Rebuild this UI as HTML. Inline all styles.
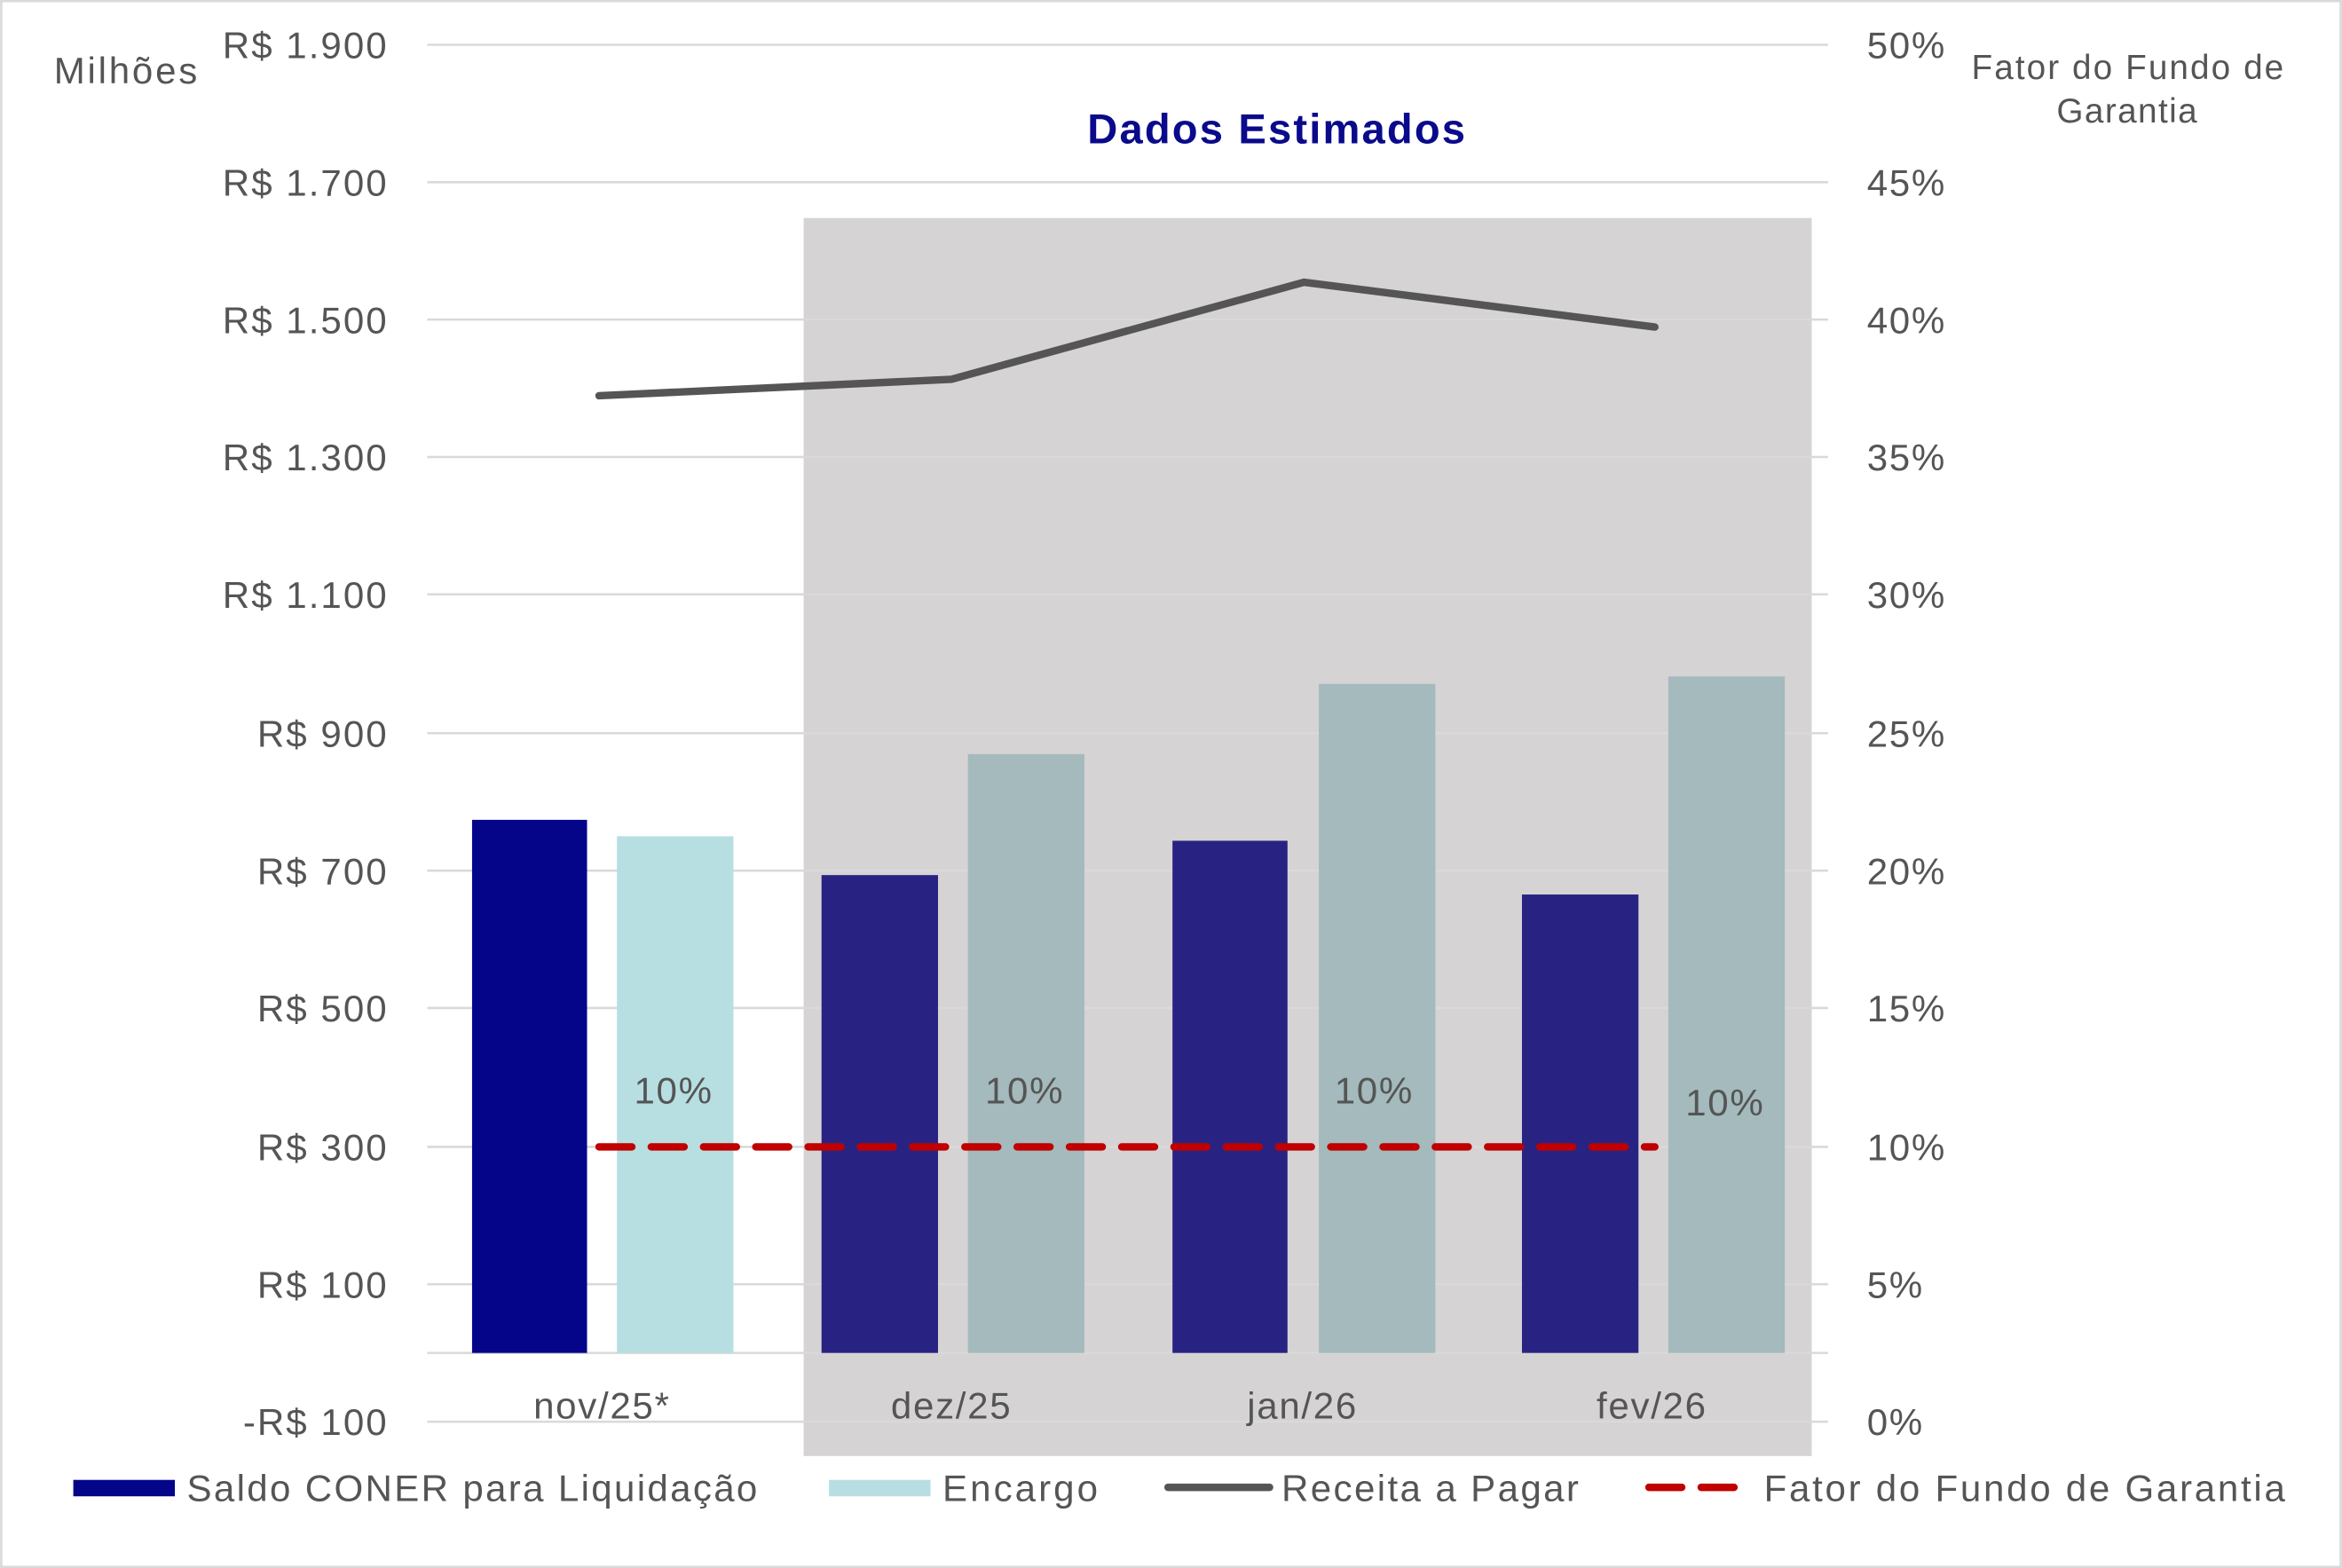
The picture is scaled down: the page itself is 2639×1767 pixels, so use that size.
<!DOCTYPE html>
<html><head><meta charset="utf-8"><style>
html,body{margin:0;padding:0;background:#fff}
svg{display:block}
text{font-family:"Liberation Sans",sans-serif;fill:#555}
</style></head><body>
<svg width="2639" height="1767" viewBox="0 0 1568 1050" xmlns="http://www.w3.org/2000/svg">
<rect x="0.75" y="0.75" width="1566.5" height="1048.5" fill="#fff" stroke="#d9d9d9" stroke-width="1.5"/>
<rect x="538" y="146" width="675" height="829" fill="#d5d3d4"/>
<g stroke="#d9d9d9" stroke-width="1.5">
<line x1="286" x2="1224" y1="30" y2="30"/><line x1="286" x2="1224" y1="122" y2="122"/>
<line x1="286" x2="1224" y1="214" y2="214"/><line x1="286" x2="1224" y1="306" y2="306"/>
<line x1="286" x2="1224" y1="398" y2="398"/><line x1="286" x2="1224" y1="491" y2="491"/>
<line x1="286" x2="1224" y1="583" y2="583"/><line x1="286" x2="1224" y1="675" y2="675"/>
<line x1="286" x2="1224" y1="768" y2="768"/><line x1="286" x2="1224" y1="860" y2="860"/>
<line x1="286" x2="1224" y1="952" y2="952"/><line x1="286" x2="1224" y1="906" y2="906"/>
</g>
<g font-size="25" text-anchor="end" letter-spacing="1.2">
<text x="260" y="39">R$ 1.900</text><text x="260" y="131">R$ 1.700</text>
<text x="260" y="223">R$ 1.500</text><text x="260" y="315">R$ 1.300</text>
<text x="260" y="407">R$ 1.100</text><text x="260" y="500">R$ 900</text>
<text x="260" y="592">R$ 700</text><text x="260" y="684">R$ 500</text>
<text x="260" y="777">R$ 300</text><text x="260" y="869">R$ 100</text>
<text x="260" y="961">-R$ 100</text>
</g>
<g font-size="25" letter-spacing="1">
<text x="1250" y="39">50%</text><text x="1250" y="131">45%</text>
<text x="1250" y="223">40%</text><text x="1250" y="315">35%</text>
<text x="1250" y="407">30%</text><text x="1250" y="500">25%</text>
<text x="1250" y="592">20%</text><text x="1250" y="684">15%</text>
<text x="1250" y="777">10%</text><text x="1250" y="869">5%</text>
<text x="1250" y="961">0%</text>
</g>
<text x="36" y="56" font-size="25" textLength="96">Milhões</text>
<text x="1320" y="53" font-size="23" textLength="209">Fator do Fundo de</text>
<text x="1377" y="82" font-size="23" textLength="94">Garantia</text>
<text x="728" y="96" font-size="28" font-weight="bold" textLength="253" style="fill:#0a0a8c">Dados Estimados</text>
<rect x="316" y="549" width="77" height="357" fill="#05058a"/>
<rect x="413" y="560" width="78" height="346" fill="#b7dfe1"/>
<rect x="550" y="586" width="78" height="320" fill="#282383"/>
<rect x="648" y="505" width="78" height="401" fill="#a4babc"/>
<rect x="785" y="563" width="77" height="343" fill="#282383"/>
<rect x="883" y="458" width="78" height="448" fill="#a4babc"/>
<rect x="1019" y="599" width="78" height="307" fill="#282383"/>
<rect x="1117" y="453" width="78" height="453" fill="#a4babc"/>
<polyline points="401,265 637,254 873,189 1108,219" fill="none" stroke="#555" stroke-width="5" stroke-linecap="round" stroke-linejoin="round"/>
<line x1="401" x2="1108" y1="768" y2="768" stroke="#c00000" stroke-width="5" stroke-dasharray="22,13" stroke-linecap="round"/>
<g font-size="25" text-anchor="middle" style="fill:#333" letter-spacing="1">
<text x="451" y="739">10%</text><text x="686" y="739">10%</text>
<text x="920" y="739">10%</text><text x="1155" y="747">10%</text>
</g>
<g font-size="25" text-anchor="middle" letter-spacing="1">
<text x="403" y="950">nov/25*</text><text x="637" y="950">dez/25</text>
<text x="872" y="950">jan/26</text><text x="1106" y="950">fev/26</text>
</g>
<rect x="49" y="991" width="68" height="11" fill="#05058a"/>
<text x="125" y="1005" font-size="25" textLength="382">Saldo CONER para Liquidação</text>
<rect x="555" y="991" width="68" height="11" fill="#b7dfe1"/>
<text x="631" y="1005" font-size="25" textLength="104">Encargo</text>
<line x1="782" x2="850" y1="996" y2="996" stroke="#555" stroke-width="5" stroke-linecap="round"/>
<text x="858" y="1005" font-size="25" textLength="199">Receita a Pagar</text>
<line x1="1104" x2="1170" y1="996" y2="996" stroke="#c00000" stroke-width="5" stroke-dasharray="22,13" stroke-linecap="round"/>
<text x="1181" y="1005" font-size="25" textLength="349">Fator do Fundo de Garantia</text>
</svg>
</body></html>
